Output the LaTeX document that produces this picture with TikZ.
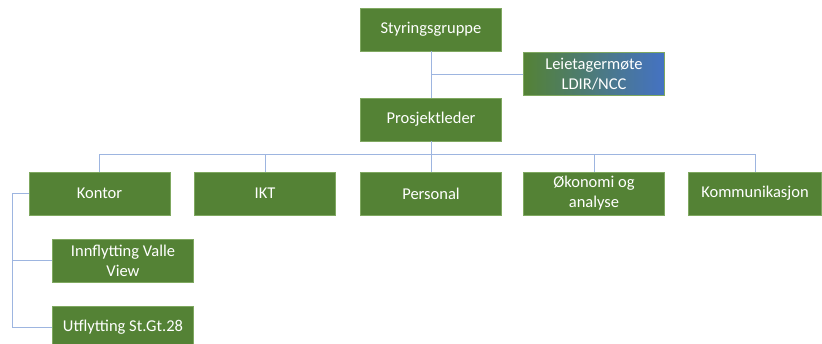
\documentclass[tikz,border=0pt]{standalone}
\usepackage{fontspec}
\setmainfont{Carlito}
\definecolor{boxgreen}{HTML}{548235}
\definecolor{boxedge}{HTML}{7FA860}
\definecolor{linkblue}{HTML}{9DB5E0}
\definecolor{boxblue}{HTML}{4472C4}
\tikzset{
  orgbox/.style={draw=boxedge, line width=0.6pt, fill=boxgreen, text=white, minimum width=141pt, minimum height=43pt, align=center, inner sep=1pt, font=\fontsize{16.5}{20}\selectfont},
  link/.style={draw=linkblue, line width=0.9pt}
}
\begin{document}
\begin{tikzpicture}[x=1pt,y=-1pt]
\useasboundingbox (0,0) rectangle (822,344);
\node[orgbox] (sty) at (431,29.5) {Styringsgruppe};
\node[orgbox, shading=axis, left color=boxgreen, right color=boxblue, shading angle=90, draw=boxedge] (lei) at (594,74) {Leietagermøte\\LDIR/NCC};
\node[orgbox] (pro) at (431,119.5) {Prosjektleder};
\node[orgbox] (kon) at (99.5,193.5) {Kontor};
\node[orgbox] (ikt) at (265,193.5) {IKT};
\node[orgbox] (per) at (431,193.5) {Personal};
\node[orgbox] (oko) at (594,193.5) {Økonomi og\\analyse};
\node[orgbox, minimum width=133pt] (kom) at (755,193.5) {Kommunikasjon};
\node[orgbox] (inn) at (123,260.5) {Innflytting Valle\\View};
\node[orgbox] (utf) at (123,327.5) {Utflytting St.Gt.28};
\coordinate (bus) at (431,154);
\coordinate (lj) at (431,74);
\coordinate (kl) at (12.5,193.5);
\begin{scope}[on background layer/.try]
\draw[link] (sty.south) -- (pro.north);
\draw[link] (lj) -- (lei.west);
\draw[link] (pro.south) -- (bus);
\draw[link] (kon.north) |- (bus);
\draw[link] (kom.north) |- (bus);
\draw[link] (ikt.north) -- (ikt.north |- bus);
\draw[link] (oko.north) -- (oko.north |- bus);
\draw[link] (per.north) -- (per.north |- bus);
\draw[link] (kon.west) -- (kl) |- (utf.west);
\draw[link] (kl) |- (inn.west);
\end{scope}
\end{tikzpicture}
\end{document}
